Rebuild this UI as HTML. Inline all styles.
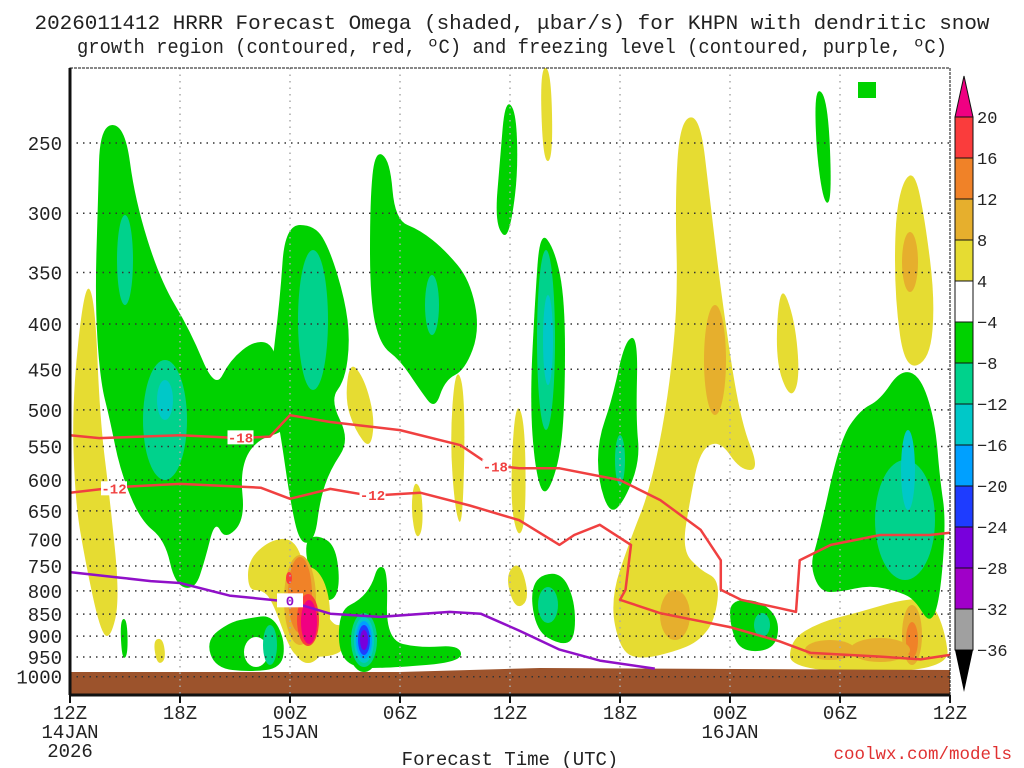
<!DOCTYPE html>
<html><head><meta charset="utf-8"><style>
html,body{margin:0;padding:0;background:#fff;width:1024px;height:768px;overflow:hidden}
svg{display:block;font-family:"Liberation Mono","DejaVu Sans Mono",monospace}
</style></head><body>
<svg id="chart" width="1024" height="768" viewBox="0 0 1024 768" xmlns="http://www.w3.org/2000/svg">
<text x="512" y="29" font-size="20" text-anchor="middle" fill="#222" textLength="955" lengthAdjust="spacingAndGlyphs">2026011412 HRRR Forecast Omega (shaded, μbar/s) for KHPN with dendritic snow</text>
<text x="512" y="53" font-size="20" text-anchor="middle" fill="#222" textLength="870" lengthAdjust="spacingAndGlyphs">growth region (contoured, red, ºC) and freezing level (contoured, purple, ºC)</text>
<g id="shade"></g>
<g id="grid"></g>
<g id="lines"></g>
<g id="axes"></g>
<g id="cbar"></g>
<text x="510" y="765" font-size="19" text-anchor="middle" fill="#222">Forecast Time (UTC)</text>
<text x="1012" y="759" font-size="17.5" text-anchor="end" fill="#e03030">coolwx.com/models</text>
</svg>
<script>
const pTicks=[250,300,350,400,450,500,550,600,650,700,750,800,850,900,950,1000];
const xTickHours=[0,6,12,18,24,30,36,42,48];
const xTickLabels=["12Z","18Z","00Z","06Z","12Z","18Z","00Z","06Z","12Z"];
const cbLevels=["20","16","12","8","4","-4","-8","-12","-16","-20","-24","-28","-32","-36"];
const cbColors=["#fa3c3c","#f08228","#e6af2d","#e6dc32","#ffffff","#00d200","#00d28c","#00c8c8","#00a0ff","#1e3cff","#7800dc","#a000c8","#a0a0a0"];
const iso18H=[0,1.6,6,9.3,10.9,12,14.2,18,21.3,22.9,24.5,26.7,30,32.2,34.4,35.5,35.5,36.6,38.7,39.6,39.8,41.5,44.2,46.9,48];
const iso18P=[534,538,534,538,536,507,516,527,548,577,582,582,600,632,683,739,798,819,837,845,739,710,692,692,688];
const iso12H=[0,2.7,6,10.4,12,14.2,16.4,19.1,21.8,24.5,26.7,27.5,28.9,30.6,30.3,30,32.2,36,38.7,40.4,44.2,46.4,48];
const iso12P=[620,611,606,612,630,614,625,620,641,666,710,692,674,710,798,819,848,879,912,940,949,956,945];
const iso0H=[0,2.7,4.4,6,8.7,12,14.2,16.9,20.7,22.4,24.5,26.7,28.9,31.9];
const iso0P=[762,773,780,784,810,823,849,856,845,849,887,932,959,979];
const NS="http://www.w3.org/2000/svg";
const X0=70,X1=950,Y0=68,Y1=695;
function xs(h){return X0+h*(X1-X0)/48;}
function ys(p){return 143+385*Math.log(p/250);}
function mk(tag,attrs,parent){const e=document.createElementNS(NS,tag);for(const k in attrs)e.setAttribute(k,attrs[k]);parent.appendChild(e);return e;}
const shade=document.getElementById('shade');
function poly(pts,fill){const e=mk('path',{d:smooth(pts),fill:fill},shade);

}
function smooth(p){let d='M'+((p[0][0]+p[p.length-1][0])/2)+','+((p[0][1]+p[p.length-1][1])/2);
for(let i=0;i<p.length;i++){const a=p[i],b=p[(i+1)%p.length];d+=' Q'+a[0]+','+a[1]+' '+((a[0]+b[0])/2)+','+((a[1]+b[1])/2);}return d+'Z';}
function ell(cx,cy,rx,ry,fill){const e=mk('ellipse',{cx,cy,rx,ry,fill},shade);

}
const G="#00d200",T="#00d28c",C="#00c8c8",LB="#00a0ff",B="#1e3cff",PU="#7800dc",MG="#a000c8",Y="#e6dc32",GO="#e6af2d",OR="#f08228",RD="#fa3c3c",PK="#f00082";
poly([[85,280],[95,300],[100,420],[110,500],[120,600],[110,640],[100,630],[85,560],[75,500],[72,400]],Y);
poly([[540,68],[551,68],[553,160],[543,162]],Y);
poly([[680,120],[700,115],[710,200],[722,300],[740,420],[760,470],[740,470],[720,440],[700,450],[690,500],[682,550],[700,570],[720,580],[715,620],[700,640],[680,650],[640,660],[620,650],[610,600],[630,540],[650,490],[668,400],[678,300],[675,200]],Y);
poly([[780,280],[795,320],[800,380],[790,400],[775,360]],Y);
poly([[903,180],[915,172],[925,220],[935,300],[930,360],[905,370],[895,300],[895,220]],Y);
poly([[790,640],[820,622],[860,612],[900,600],[930,598],[945,630],[950,672],[790,672]],Y);
poly([[350,360],[365,380],[375,420],[370,450],[355,430],[345,400]],Y);
poly([[455,370],[463,380],[465,440],[462,530],[455,510],[450,440]],Y);
poly([[414,480],[422,490],[423,530],[416,540],[411,510]],Y);
poly([[515,400],[525,420],[526,520],[518,540],[510,500]],Y);
poly([[248,560],[270,540],[293,538],[305,565],[330,625],[345,625],[346,655],[300,658],[290,650],[272,600],[262,590],[248,590]],Y);
poly([[153,640],[163,638],[166,660],[157,665]],Y);
poly([[505,575],[520,560],[530,600],[515,610]],Y);
ell(715,360,11,55,GO);ell(910,262,8,30,GO);ell(675,615,15,25,GO);ell(912,635,10,30,GO);ell(912,640,6,18,OR);
ell(880,650,30,12,GO);ell(830,650,25,10,GO);
poly([[100,125],[125,125],[135,200],[160,280],[190,330],[215,390],[230,360],[255,340],[275,345],[285,400],[290,430],[255,440],[240,470],[245,520],[225,540],[215,520],[205,560],[195,590],[175,585],[165,540],[140,520],[120,470],[110,420],[100,380],[95,300],[98,200]],G);
poly([[285,225],[315,225],[330,250],[345,300],[350,340],[345,380],[330,400],[350,440],[330,470],[320,500],[315,540],[300,545],[290,500],[280,430],[270,380],[280,300]],G);
poly([[375,150],[390,160],[395,220],[420,230],[445,250],[470,280],[480,330],[465,370],[445,380],[435,410],[420,390],[400,360],[380,345],[370,300],[370,200]],G);
poly([[505,100],[516,110],[518,170],[512,220],[505,240],[495,220],[500,160]],G);
poly([[540,230],[555,250],[565,300],[565,400],[560,460],[545,500],[535,470],[530,400],[535,300]],G);
poly([[625,340],[638,336],[636,420],[640,460],[625,500],[610,515],[598,480],[598,440],[612,400]],G);
poly([[815,85],[828,100],[832,200],[824,205],[816,150]],G);
poly([[818,540],[840,440],[860,410],[880,400],[900,370],[920,375],[935,420],[940,480],[946,520],[940,600],[930,625],[915,600],[900,592],[870,585],[840,592],[820,592],[810,565]],G);
poly([[206,640],[230,622],[250,618],[272,615],[285,640],[282,668],[250,672],[215,668]],G);
poly([[305,540],[318,535],[335,545],[340,580],[335,600],[322,600],[308,570]],G);
poly([[340,610],[360,600],[372,585],[378,565],[388,570],[386,640],[420,648],[460,645],[462,662],[390,668],[352,668],[338,650]],G);
poly([[530,580],[560,570],[575,600],[575,640],[560,645],[535,630]],G);
poly([[730,600],[760,600],[780,620],[775,650],[740,652],[730,625]],G);
poly([[120,620],[127,618],[128,655],[122,660]],G);
mk('rect',{x:858,y:82,width:18,height:16,fill:G},shade);
ell(256,652,12,15,"#fff");
ell(125,260,8,45,T);ell(165,420,22,60,T);ell(313,320,15,70,T);ell(432,305,7,30,T);ell(546,340,9,90,T);ell(270,645,7,20,T);ell(905,520,30,60,T);ell(548,605,10,18,T);ell(762,625,8,12,T);
ell(908,470,7,40,C);ell(548,340,5,45,C);ell(165,400,8,20,C);ell(620,460,5,25,T);
ell(308,615,22,48,Y);ell(300,600,16,45,GO);ell(300,595,12,38,OR);ell(308,620,11,26,RD);ell(309,622,8,22,PK);ell(289,578,3,6,RD);
ell(364,640,17,32,G);ell(364,640,13,27,T);ell(364,640,10,23,C);ell(364,640,8,19,LB);ell(364,640,6,15,B);ell(364,640,4,10,PU);
mk('path',{d:`M${X0},672 L400,672 L540,668 L950,670 L950,${Y1} L${X0},${Y1}Z`,fill:'#9c532c'},shade);
const grid=document.getElementById('grid');
pTicks.forEach(p=>{const l=mk('line',{x1:X0,x2:X1,y1:ys(p),y2:ys(p),stroke:'#333','stroke-width':1.5,'stroke-dasharray':'1.5 5'},grid);
});
xTickHours.slice(1,-1).forEach(h=>{const l=mk('line',{x1:xs(h),x2:xs(h),y1:Y0,y2:Y1,stroke:'#aaa','stroke-width':1.5,'stroke-dasharray':'1.5 5'},grid);
});
const lines=document.getElementById('lines');
function pl(H,P,col,name){const d=H.map((h,i)=>(i?'L':'M')+xs(h).toFixed(1)+','+ys(P[i]).toFixed(1)).join(' ');
const e=mk('path',{d:d,fill:'none',stroke:col,'stroke-width':2.5,'stroke-linejoin':'round'},lines);

}
pl(iso18H,iso18P,'#f04040','isotherm-minus18');
pl(iso12H,iso12P,'#f04040','isotherm-minus12');
pl(iso0H,iso0P,'#9010c8','freezing-level');
function lab(h,p,t,col){const x=xs(h),y=ys(p);mk('rect',{x:x-13,y:y-7,width:26,height:14,fill:'#fff'},lines);
const e=mk('text',{x:x,y:y+5,'font-size':14,'text-anchor':'middle',fill:col,'font-weight':'bold'},lines);e.textContent=t;

}
lab(9.3,537,'-18','#f04040');lab(23.2,579,'-18','#f04040');lab(2.4,613,'-12','#f04040');lab(16.5,624,'-12','#f04040');lab(12,820,'0','#9010c8');
const ax=document.getElementById('axes');
mk('rect',{x:X0,y:Y0,width:X1-X0,height:Y1-Y0,fill:'none',stroke:'#111','stroke-width':1,'stroke-dasharray':'3 1'},ax);
mk('line',{x1:X0,x2:X0,y1:Y0,y2:Y1,stroke:'#111','stroke-width':3},ax);
mk('line',{x1:X0,x2:X1,y1:Y1,y2:Y1,stroke:'#111','stroke-width':3},ax);
pTicks.forEach(p=>{const t=mk('text',{x:62,y:ys(p)+7,'font-size':19,'text-anchor':'end',fill:'#222'},ax);t.textContent=p;

});
xTickHours.forEach((h,i)=>{mk('line',{x1:xs(h),x2:xs(h),y1:Y1,y2:Y1+8,stroke:'#111','stroke-width':2},ax);
const t=mk('text',{x:xs(h),y:719,'font-size':19,'text-anchor':'middle',fill:'#222'},ax);t.textContent=xTickLabels[i];

});
[[0,'14JAN',738],[0,'2026',757],[12,'15JAN',738],[36,'16JAN',738]].forEach(a=>{const t=mk('text',{x:xs(a[0]),y:a[2],'font-size':19,'text-anchor':'middle',fill:'#222'},ax);t.textContent=a[1];

});
const cb=document.getElementById('cbar');
const cx=955,cw=18,ct=117,cbh=41;
mk('path',{d:`M${cx},${ct} L${cx+cw/2},76 L${cx+cw},${ct}Z`,fill:'#f00082',stroke:'#111'},cb);
cbColors.forEach((c,i)=>{const r=mk('rect',{x:cx,y:ct+i*cbh,width:cw,height:cbh,fill:c,stroke:'#111','stroke-width':1},cb);

});
const cbot=ct+cbColors.length*cbh;
mk('path',{d:`M${cx},${cbot} L${cx+cw/2},${cbot+42} L${cx+cw},${cbot}Z`,fill:'#000'},cb);
cbLevels.forEach((l,i)=>{const t=mk('text',{x:977,y:ct+i*cbh+6,'font-size':17,fill:'#222'},cb);t.textContent=l.replace('-','−');

});
</script>
</body></html>
